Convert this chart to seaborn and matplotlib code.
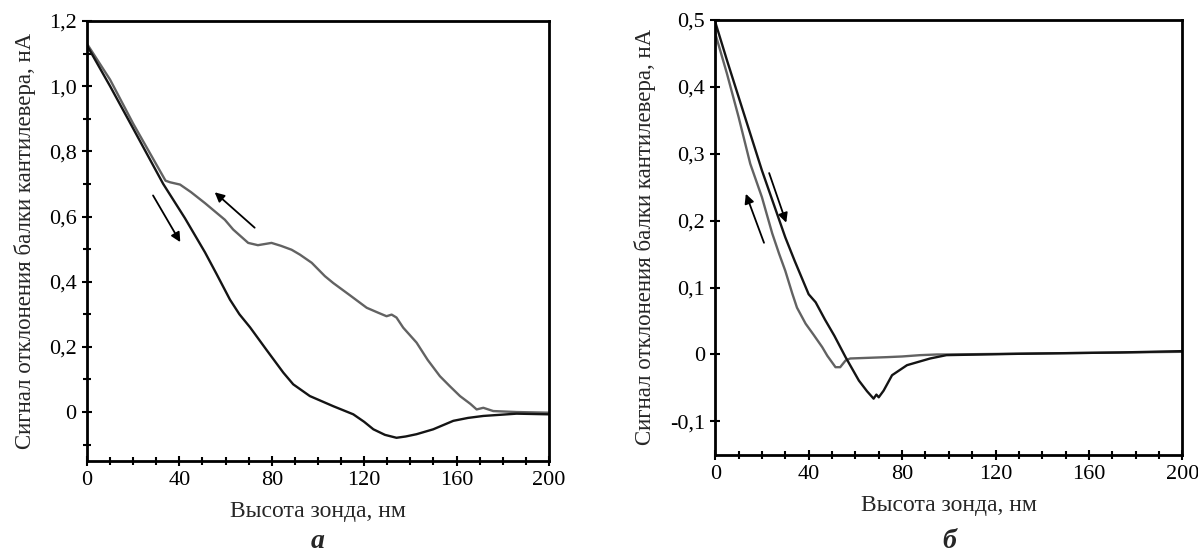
import numpy as np
import pandas as pd
import seaborn as sns
import matplotlib.pyplot as plt
from matplotlib.ticker import MultipleLocator, FuncFormatter

# panel a: approach (black) and retract (grey)
a_down_x = [0, 10, 20, 33, 42.4, 51.1, 56, 61.9, 66, 70.6, 77.8, 85, 89.3, 96.5, 106.6, 115.3,
            120, 124, 129, 134, 138, 142.7, 149.9, 158.6, 165, 171.6, 186, 200]
a_down_y = [1.125, 1.0, 0.87, 0.70, 0.595, 0.49, 0.425, 0.345, 0.30, 0.26, 0.19, 0.121, 0.085, 0.049,
            0.018, -0.007, -0.03, -0.053, -0.07, -0.079, -0.075, -0.068, -0.053, -0.027, -0.018,
            -0.012, -0.005, -0.007]
a_up_x = [0, 10, 20, 34, 36, 40.3, 45, 51.1, 59.7, 63.3, 69.8, 74, 79.9, 84, 88.6, 92.2, 97.3, 103,
          106.6, 113.9, 121.1, 126, 129.7, 131.9, 134, 136.9, 142.7, 147.5, 152.8, 157, 161.5, 166,
          168.7, 171.6, 175.9, 186, 200]
a_up_y = [1.13, 1.02, 0.885, 0.71, 0.705, 0.698, 0.675, 0.641, 0.59, 0.56, 0.519, 0.512, 0.519, 0.51,
          0.498, 0.483, 0.458, 0.417, 0.396, 0.358, 0.32, 0.305, 0.294, 0.299, 0.29, 0.259, 0.213,
          0.16, 0.11, 0.08, 0.049, 0.025, 0.008, 0.013, 0.003, 0.0, -0.002]

# panel b
b_down_x = [0, 5, 10, 15, 20, 25, 30, 34, 37, 40, 43, 47, 51, 55.8, 61.5, 65, 67.8, 69, 70, 72.1,
            75.7, 82.1, 92, 99, 130, 173, 200]
b_down_y = [0.497, 0.44, 0.385, 0.33, 0.275, 0.225, 0.175, 0.14, 0.115, 0.09, 0.078, 0.052, 0.028,
            -0.004, -0.039, -0.055, -0.066, -0.06, -0.064, -0.054, -0.031, -0.016, -0.006, -0.001,
            0.001, 0.003, 0.005]
b_up_x = [0, 5, 10, 15, 20, 24.4, 27.3, 30, 33, 35, 38.7, 42, 45.8, 48, 51.5, 53.5, 55.8, 57.8, 73.5,
          80, 87.8, 95, 100, 200]
b_up_y = [0.48, 0.42, 0.355, 0.285, 0.235, 0.181, 0.151, 0.125, 0.091, 0.07, 0.046, 0.03, 0.011,
          -0.002, -0.019, -0.019, -0.009, -0.006, -0.004, -0.003, -0.001, 0.0, 0.0, 0.004]

sns.set_theme(style='ticks')
plt.rcParams['font.family'] = ['Liberation Serif', 'DejaVu Serif']

fig = plt.figure(figsize=(11.98, 5.52), dpi=100)
ax1 = fig.add_axes([0.0726, 0.165, 0.3856, 0.797])
ax2 = fig.add_axes([0.597, 0.176, 0.390, 0.788])

grey = '#626262'
black = '#141414'


def comma(v, pos):
    if abs(v) < 1e-9:
        return '0'
    return f'{v:.1f}'.replace('.', ',')


def style_axis(ax, ymin, ymax, ymajor, yminor, ypad):
    ax.set_xlim(0, 200)
    ax.set_ylim(ymin, ymax)
    ax.xaxis.set_major_locator(MultipleLocator(40))
    ax.xaxis.set_minor_locator(MultipleLocator(10))
    ax.yaxis.set_major_locator(MultipleLocator(ymajor))
    ax.yaxis.set_minor_locator(MultipleLocator(yminor))
    ax.yaxis.set_major_formatter(FuncFormatter(comma))
    ax.tick_params(which='both', direction='inout', width=1.5, colors='black',
                   labelsize=16, pad=4)
    ax.tick_params(which='major', length=7)
    ax.tick_params(which='minor', length=6)
    for s in ax.spines.values():
        s.set_linewidth(2)
        s.set_color('black')
    ax.set_xlabel('Высота зонда, нм', fontsize=17, labelpad=8)
    ax.set_ylabel('Сигнал отклонения балки кантилевера, нА', fontsize=16.5, labelpad=ypad)


sns.lineplot(x=a_up_x, y=a_up_y, ax=ax1, color=grey, linewidth=1.7, sort=False)
sns.lineplot(x=a_down_x, y=a_down_y, ax=ax1, color=black, linewidth=1.7, sort=False)
style_axis(ax1, -0.15, 1.2, 0.2, 0.1, 9)

sns.lineplot(x=b_up_x, y=b_up_y, ax=ax2, color=grey, linewidth=1.7, sort=False)
sns.lineplot(x=b_down_x, y=b_down_y, ax=ax2, color=black, linewidth=1.7, sort=False)
style_axis(ax2, -0.15, 0.5, 0.1, 0.1, 10)

arrow = dict(arrowstyle='-|>', color='black', lw=1.3, mutation_scale=14)
ax1.annotate('', xy=(41, 0.514), xytext=(28, 0.672), arrowprops=arrow)
ax1.annotate('', xy=(54.4, 0.68), xytext=(73.5, 0.56), arrowprops=arrow)
ax2.annotate('', xy=(30.8, 0.193), xytext=(22.7, 0.275), arrowprops=arrow)
ax2.annotate('', xy=(12.7, 0.244), xytext=(21.3, 0.163), arrowprops=arrow)

fig.text(0.2654, 0.008, 'а', fontsize=20, fontweight='bold', fontstyle='italic', ha='center')
fig.text(0.792, 0.008, 'б', fontsize=20, fontweight='bold', fontstyle='italic', ha='center')

fig.savefig('out.png', dpi=100)
